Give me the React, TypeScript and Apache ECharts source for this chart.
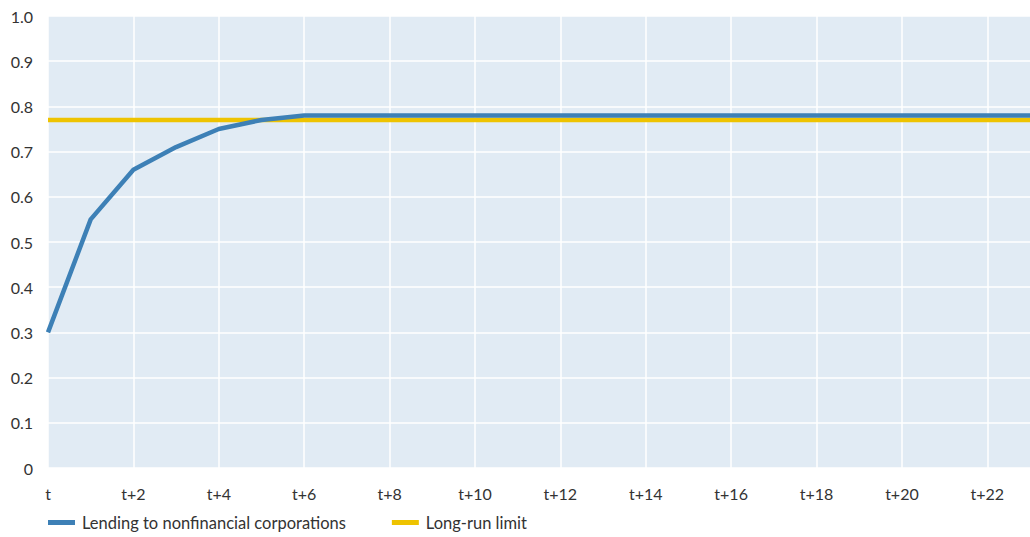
import React, { useEffect, useRef } from "react";
import * as echarts from "echarts";

const categories = Array.from({ length: 24 }, (_, i) => (i === 0 ? "t" : `t+${i}`));
const lending = [0.3, 0.55, 0.66, 0.71, 0.75, 0.77, 0.78, 0.78, 0.78, 0.78, 0.78, 0.78, 0.78, 0.78, 0.78, 0.78, 0.78, 0.78, 0.78, 0.78, 0.78, 0.78, 0.78, 0.78];
const longRun = categories.map(() => 0.77);
const seriesNames = ["Lending to nonfinancial corporations", "Long-run limit"];

export default function App() {
  const ref = useRef<HTMLDivElement>(null);
  useEffect(() => {
    const chart = echarts.init(ref.current!, null, { renderer: "svg" });
    const font = "Lato, 'Open Sans', sans-serif";
    chart.setOption({
      animation: false,
      backgroundColor: "#ffffff",
      textStyle: { fontFamily: font },
      grid: { left: 48, right: 0, top: 16, bottom: 69, containLabel: false, show: true, backgroundColor: "#e1ebf4", borderWidth: 0 },
      legend: {
        left: 43,
        bottom: 1,
        itemWidth: 27,
        itemHeight: 5,
        itemGap: 46,
        icon: "rect",
        textStyle: { color: "#333", fontSize: 16.5, fontFamily: font, padding: [0, 0, 0, 2] },
        data: seriesNames,
      },
      xAxis: {
        type: "category",
        data: categories,
        boundaryGap: false,
        axisLine: { show: false },
        axisTick: { show: false },
        axisLabel: { interval: 1, color: "#333", fontSize: 16, margin: 17, fontFamily: font },
        splitLine: { show: true, interval: 1, lineStyle: { color: "#ffffff", width: 1.5 } },
      },
      yAxis: {
        type: "value",
        min: 0,
        max: 1,
        interval: 0.1,
        axisLine: { show: false },
        axisTick: { show: false },
        axisLabel: { color: "#333", fontSize: 16, margin: 15, fontFamily: font, formatter: (v: number) => (v === 0 ? "0" : v.toFixed(1)) },
        splitLine: { show: true, lineStyle: { color: "#ffffff", width: 1.5 } },
      },
      series: [
        {
          name: seriesNames[1],
          type: "line",
          data: longRun,
          symbol: "none",
          z: 2,
          lineStyle: { color: "#eec300", width: 4.5 },
          itemStyle: { color: "#eec300" },
        },
        {
          name: seriesNames[0],
          type: "line",
          data: lending,
          symbol: "none",
          z: 3,
          lineStyle: { color: "#3d80b6", width: 4.5 },
          itemStyle: { color: "#3d80b6" },
        },
      ],
    });
    return () => chart.dispose();
  }, []);
  return <div ref={ref} style={{ position: "fixed", left: 0, top: 0, width: 1030, height: 537 }} />;
}
